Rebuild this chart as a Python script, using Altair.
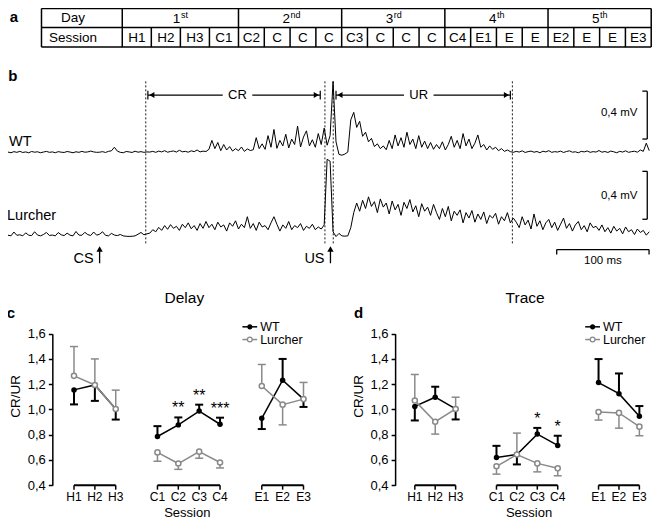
import altair as alt
import pandas as pd

# ---------------- data ----------------
days = ["1", "2", "3", "4", "5"]
day_suffix = ["st", "nd", "rd", "th", "th"]
table_sessions = ["H1", "H2", "H3", "C1", "C2", "C", "C", "C", "C3", "C", "C", "C",
                  "C4", "E1", "E", "E", "E2", "E", "E", "E3"]

# EMG traces (microvolts above baseline), one sample every 3.2 ms, CS at sample 31
sample_ms = 3.2
cs_index = 31
wt_trace = (
    [5, 0, 8, 3, 10, 2, 6, 0, 9, 4, 7, 0, 5, 10, 3, 6, 0, 8, 4, 2, 9, 5, 0, 7, 3, 10, 4, 6, 12]
    + [6, 3]
    + [4, 8, 2, 10, 14, 40, 12, 3, 0, 9, 6, 2, 11, 4, 8, 3, 6]
    + [5, 10, 3, 12, 6, 15, 4, 9, 13, 5, 18, 7, 10, 4, 14, 8, 20, 6, 12, 9]
    + [25, 90, 30, 75, 15, 60, 20, 45]
    + [12, 30, 15, 42, 10, 28, 16]
    + [22, 110, 30, 65, 25, 125, 40, 170, 32, 90, 50, 135, 35, 100, 60, 195, 42, 115,
       160, 50, 95, 40, 140, 60, 180, 55, 125]
    + [520, 80]
    + [-12, -18, -10, 5]
    + [240, 295, 185, 230, 120, 150, 80, 105, 45, 65, 30, 50, 22]
    + [90, 30, 130, 50, 110, 40, 150, 60, 100, 30, 125, 40, 85, 30, 75, 25, 60]
    + [30, 80, 20, 60, 120, 40, 90, 30, 140, 50, 100, 30, 70, 130, 40, 60, 20, 50, 25,
       40, 15, 30, 10, 20, 8]
    + [3, 10, 5, 14, 2, 8, 12, 4, 9, 0, 11, 6, 15, 3, 8, 5, 12, 2, 9, 14, 4, 7, 0, 10, 6,
       13, 3, 8, 5, 16, 4, 9, 2, 12, 7, 0, 10, 5, 14, 3, 8, 11, 4, 20, 10, 70, 15]
)
lurcher_trace = (
    [5, 0, 28, 4, 8, 0, 22, 5, 2, 30, 6, 0, 10, 25, 3, 6, 0, 24, 8, 2, 20, 5, 0, 32, 6, 4,
     26, 9, 3, 28, 5, 12, 30, 4, 0, 18, 6, 2, 10]
    + [0, -3, -4, -3, 0, 12, 25]
    + [8, 15]
    + [20, 45, 30, 62, 40, 75, 48, 82, 55, 70, 40, 85, 60, 95, 52]
    + [75, 40, 90, 55, 105, 60, 85, 45, 100, 65, 80, 35, 95, 70, 110, 50, 85, 60, 140, 55,
       90, 40, 100, 65, 75, 45, 95, 140, 85, 35, 80, 55, 105, 45, 75, 60, 90, 40, 70, 55,
       85, 45, 65, 50, 80]
    + [560, 545]
    + [30]
    + [-5, 18, 0, -2, 0]
    + [60, 170, 240]
    + [180, 260, 200, 285, 215, 250, 170, 270, 210, 240, 160, 255, 190, 230, 150, 245,
       200, 265, 175, 220, 140, 235, 180, 210, 150, 230, 170]
    + [120, 200, 140, 215, 110, 180, 150, 190, 95, 170, 130, 185, 100, 160, 120, 175, 90,
       150, 130, 165, 85, 140, 110, 170, 95, 130]
    + [100, 60, 140, 80, 115, 50, 160, 70, 110, 45, 95, 120, 60, 100, 40, 85, 130, 55, 90,
       35, 80, 105, 45, 75, 30, 95, 60, 70]
    + [40, 80, 30, 60, 20, 70, 35, 55, 15, 65, 30, 45, 10, 50, 25, 40, 5, 30]
)
window_edges_ms = [50, 244, 253, 447]

# CR/UR ratios
sessions = ["H1", "H2", "H3", "C1", "C2", "C3", "C4", "E1", "E2", "E3"]
session_pos = [0, 1, 2, 4, 5, 6, 7, 9, 10, 11]
session_group = ["H", "H", "H", "C", "C", "C", "C", "E", "E", "E"]

delay_wt = [1.155, 1.194, 1.004, 0.786, 0.878, 0.987, 0.883, 0.930, 1.232, 1.082]
delay_wt_err = [1.040, 1.068, 0.920, 0.868, 0.937, 1.038, 0.935, 0.845, 1.400, 1.020]
delay_lc = [1.266, 1.194, 1.004, 0.660, 0.572, 0.666, 0.580, 1.186, 1.038, 1.082]
delay_lc_err = [1.498, 1.400, 1.153, 0.590, 0.526, 0.614, 0.537, 1.356, 0.878, 1.214]
delay_star_sessions = ["C2", "C3", "C4"]
delay_star_labels = ["**", "**", "***"]

trace_wt = [1.024, 1.097, 1.004, 0.620, 0.643, 0.805, 0.715, 1.213, 1.125, 0.947]
trace_wt_err = [0.913, 1.180, 0.921, 0.712, 0.565, 0.854, 0.792, 1.399, 1.285, 1.027]
trace_lc = [1.070, 0.903, 1.004, 0.550, 0.643, 0.573, 0.534, 0.980, 0.973, 0.864]
trace_lc_err = [1.277, 0.805, 1.097, 0.488, 0.813, 0.506, 0.475, 0.916, 0.852, 0.792]
trace_star_sessions = ["C3", "C4"]
trace_star_labels = ["*", "*"]

y_ticks = [0.4, 0.6, 0.8, 1.0, 1.2, 1.4, 1.6]

# ---------------- layout helpers ----------------
FONT = "Liberation Sans"
GRAY = "#8a8a8a"
SX = 0.985
SY = 0.978


def X(xr):
    return round((xr - 4) * SX, 2)


def Y(yr):
    return round((yr - 5) * SY, 2)


one = pd.DataFrame({"k": [0]})
layers = []


def text(x, y, s, size=13, align="center", weight="normal", angle=0, color="black"):
    kw = dict(text=s, font=FONT, fontSize=size, align=align, baseline="middle",
              fontWeight=weight, color=color)
    if angle:
        kw["angle"] = angle
    return alt.Chart(one).mark_text(**kw).encode(x=alt.value(X(x)), y=alt.value(Y(y)))


def seg(x1, y1, x2, y2, color="black", width=1.0, dash=None):
    kw = dict(color=color, strokeWidth=width)
    if dash:
        kw["strokeDash"] = dash
    return alt.Chart(one).mark_rule(**kw).encode(
        x=alt.value(X(x1)), y=alt.value(Y(y1)), x2=alt.value(X(x2)), y2=alt.value(Y(y2)))


def sym(x, y, shape, size, color="black"):
    return alt.Chart(one).mark_point(shape=shape, size=size, filled=True, color=color,
                                     opacity=1).encode(x=alt.value(X(x)), y=alt.value(Y(y)))


# ---------------- panel a: table ----------------
layers.append(text(10, 14, "a", size=15, weight="bold"))
tbl_x = alt.Scale(domain=[-1, 0, 4, 20], range=[X(38), X(120), X(238), X(657)],
                  zero=False, nice=False)
TL, TR, TT, TM, TB = 38, 657, 5.5, 25, 45
layers.append(seg(TL, TT, TR, TT, width=1.5))
layers.append(seg(TL, TM, TR, TM, width=1.5))
layers.append(seg(TL, TB, TR, TB, width=1.5))
layers.append(seg(TL, TT, TL, TB, width=1.5))
layers.append(seg(TR, TT, TR, TB, width=1.5))
day_edges = pd.DataFrame({"e": [0, 4, 8, 12, 16]})
layers.append(alt.Chart(day_edges).mark_rule(color="black", strokeWidth=1.5).encode(
    x=alt.X("e:Q", scale=tbl_x, axis=None), y=alt.value(Y(TT)), y2=alt.value(Y(TM))))
sess_edges = pd.DataFrame({"e": list(range(20))})
layers.append(alt.Chart(sess_edges).mark_rule(color="black", strokeWidth=1.5).encode(
    x=alt.X("e:Q", scale=tbl_x, axis=None), y=alt.value(Y(TM)), y2=alt.value(Y(TB))))
layers.append(text(70, 15.5, "Day", size=13.5))
layers.append(text(70, 35.5, "Session", size=13.5))
day_df = pd.DataFrame({"c": [4 * i + 2 for i in range(5)], "d": days, "s": day_suffix})
layers.append(alt.Chart(day_df).mark_text(font=FONT, fontSize=13.5, align="right", dx=0,
                                          color="black").encode(
    x=alt.X("c:Q", scale=tbl_x, axis=None), y=alt.value(Y(16)), text="d:N"))
layers.append(alt.Chart(day_df).mark_text(font=FONT, fontSize=9, align="left", dx=0.5, color="black").encode(
    x=alt.X("c:Q", scale=tbl_x, axis=None), y=alt.value(Y(12)), text="s:N"))
sess_df = pd.DataFrame({"c": [i + 0.5 for i in range(20)], "label": table_sessions})
layers.append(alt.Chart(sess_df).mark_text(font=FONT, fontSize=13.5, color="black").encode(
    x=alt.X("c:Q", scale=tbl_x, axis=None), y=alt.value(Y(35.5)), text="label:N"))

# ---------------- panel b: EMG traces ----------------
layers.append(text(9, 75, "b", size=15, weight="bold"))
PPM = 0.9375
CSX = 97
tr_x = alt.Scale(domain=[-100, 600], range=[X(CSX - 100 * PPM), X(CSX + 600 * PPM)],
                 zero=False, nice=False)


def trace_layer(vals, base_y):
    df = pd.DataFrame({"t": [(i - cs_index) * sample_ms for i in range(len(vals))], "v": vals})
    return alt.Chart(df).mark_line(color="black", strokeWidth=1.0).encode(
        x=alt.X("t:Q", scale=tr_x, axis=None),
        y=alt.Y("v:Q", scale=alt.Scale(domain=[0, 400], range=[Y(base_y), Y(base_y - 56)],
                                       zero=False, nice=False), axis=None))


layers.append(trace_layer(wt_trace, 153))
layers.append(trace_layer(lurcher_trace, 238))
edge_df = pd.DataFrame({"t": window_edges_ms})
layers.append(alt.Chart(edge_df).mark_rule(color="black", strokeWidth=0.9, strokeDash=[2, 2]).encode(
    x=alt.X("t:Q", scale=tr_x, axis=None), y=alt.value(Y(80)), y2=alt.value(Y(246))))

# CR / UR arrows
AY = 94
for (a, b, lab, lx) in [(146, 321, "CR", 237), (337, 514, "UR", 421)]:
    layers.append(seg(a, AY, lx - 15, AY, width=1.2))
    layers.append(seg(lx + 15, AY, b, AY, width=1.2))
    layers.append(seg(a, AY - 4.5, a, AY + 4.5, width=1.2))
    layers.append(seg(b, AY - 4.5, b, AY + 4.5, width=1.2))
    layers.append(sym(a + 4, AY, "triangle-left", 35))
    layers.append(sym(b - 4, AY, "triangle-right", 35))
    layers.append(text(lx, AY, lab, size=13))

layers.append(text(5, 142, "WT", size=14.5, align="left"))
layers.append(text(3, 218, "Lurcher", size=14.5, align="left"))

# amplitude bars
for (top, bot, ty) in [(90, 139, 112), (172, 221, 197)]:
    layers.append(seg(653, top, 653, bot, width=1.3))
    layers.append(seg(648, top, 653, top, width=1.3))
    layers.append(seg(648, bot, 653, bot, width=1.3))
    layers.append(text(643, ty, "0,4 mV", size=11.5, align="right"))

# CS / US arrows
for (ax, lab) in [(CSX, "CS"), (CSX + 250 * PPM, "US")]:
    layers.append(seg(ax, 266, ax, 253, width=1.3))
    layers.append(sym(ax, 251.5, "triangle-up", 40))
    layers.append(text(ax - 6, 262, lab, size=14.5, align="right"))

# time bar
bar_df = pd.DataFrame({"t0": [495], "t1": [595]})
layers.append(alt.Chart(bar_df).mark_rule(color="black", strokeWidth=1.3).encode(
    x=alt.X("t0:Q", scale=tr_x, axis=None), x2="t1:Q", y=alt.value(Y(252))))
layers.append(alt.Chart(pd.DataFrame({"t": [495, 595]})).mark_rule(color="black", strokeWidth=1.3).encode(
    x=alt.X("t:Q", scale=tr_x, axis=None), y=alt.value(Y(252)), y2=alt.value(Y(257))))
layers.append(text(608, 264, "100 ms", size=11.5))


# ---------------- panels c and d ----------------
def panel(wt, wt_err, lc, lc_err, star_sessions, star_labels, x0, x1, axis_x,
          title, title_x, letter, letter_x, legend_x, session_x):
    out = []
    df = pd.DataFrame({"pos": session_pos, "session": sessions, "group": session_group,
                       "wt": wt, "wt_err": wt_err, "lc": lc, "lc_err": lc_err})
    xs = alt.Scale(domain=[0, 11], range=[X(x0), X(x1)], zero=False, nice=False)
    ys = alt.Scale(domain=[0.4, 1.6], range=[Y(493), Y(338)], zero=False, nice=False)
    xe = alt.X("pos:Q", scale=xs, axis=None)
    yaxis = alt.Axis(orient="left", offset=-X(axis_x), values=y_ticks,
                     labelExpr="replace(format(datum.value, '.1f'), '.', ',')",
                     tickSize=4, tickWidth=1.5, domainWidth=1.5, domainColor="black",
                     tickColor="black", labelColor="black", labelFont=FONT, labelFontSize=13,
                     labelPadding=3, grid=False, title=None)
    base = alt.Chart(df)
    cap = "M-1,0H1"
    # error bars
    out.append(base.mark_rule(color="black", strokeWidth=2).encode(
        x=xe, y=alt.Y("wt:Q", scale=ys, axis=yaxis), y2="wt_err:Q"))
    out.append(base.mark_point(shape=cap, size=64, color="black", strokeWidth=2, opacity=1).encode(
        x=xe, y=alt.Y("wt_err:Q", scale=ys, axis=None)))
    out.append(base.mark_rule(color=GRAY, strokeWidth=1.5).encode(
        x=xe, y=alt.Y("lc:Q", scale=ys, axis=None), y2="lc_err:Q"))
    out.append(base.mark_point(shape=cap, size=64, color=GRAY, strokeWidth=1.5, opacity=1).encode(
        x=xe, y=alt.Y("lc_err:Q", scale=ys, axis=None)))
    # lines
    out.append(base.mark_line(color="black", strokeWidth=1.5).encode(
        x=xe, y=alt.Y("wt:Q", scale=ys, axis=None), detail="group:N"))
    out.append(base.mark_line(color=GRAY, strokeWidth=1.5).encode(
        x=xe, y=alt.Y("lc:Q", scale=ys, axis=None), detail="group:N"))
    # points
    out.append(base.mark_point(shape="circle", size=30, filled=True, color="black", opacity=1).encode(
        x=xe, y=alt.Y("wt:Q", scale=ys, axis=None)))
    out.append(base.mark_point(shape="circle", size=26, fill="white", stroke=GRAY, strokeWidth=1.5,
                               opacity=1, fillOpacity=1).encode(
        x=xe, y=alt.Y("lc:Q", scale=ys, axis=None)))
    # stars
    lookup = dict(zip(sessions, zip(session_pos, wt_err)))
    st = pd.DataFrame({"pos": [lookup[s][0] for s in star_sessions],
                       "y": [lookup[s][1] for s in star_sessions], "label": star_labels})
    out.append(alt.Chart(st).mark_text(font=FONT, fontSize=16, dy=-9, color="black").encode(
        x=xe, y=alt.Y("y:Q", scale=ys, axis=None), text="label:N"))
    # segmented session axis
    grp = pd.DataFrame({"start": [0, 4, 9], "end": [2, 7, 11]})
    out.append(alt.Chart(grp).mark_rule(color="black", strokeWidth=1.8).encode(
        x=alt.X("start:Q", scale=xs, axis=None), x2="end:Q", y=alt.value(Y(493))))
    out.append(base.mark_rule(color="black", strokeWidth=1.5).encode(
        x=xe, y=alt.value(Y(493)), y2=alt.value(Y(497.5))))
    out.append(base.mark_text(font=FONT, fontSize=12, color="black").encode(
        x=xe, y=alt.value(Y(505.5)), text="session:N"))
    out.append(text(session_x, 521, "Session", size=13))
    out.append(text(axis_x - 37, 402, "CR/UR", size=13.5, angle=270))
    out.append(text(title_x, 302, title, size=15.5))
    out.append(text(letter_x, 317, letter, size=15, weight="bold"))
    # legend
    lx = legend_x
    out.append(seg(lx, 331, lx + 15, 331, width=1.5))
    out.append(alt.Chart(one).mark_point(shape="circle", size=26, filled=True, color="black",
                                         opacity=1).encode(x=alt.value(X(lx + 7.5)), y=alt.value(Y(331))))
    out.append(text(lx + 18, 331, "WT", size=12.5, align="left"))
    out.append(seg(lx, 344, lx + 15, 344, color=GRAY, width=1.5))
    out.append(alt.Chart(one).mark_point(shape="circle", size=22, fill="white", stroke=GRAY,
                                         strokeWidth=1.3, opacity=1, fillOpacity=1).encode(
        x=alt.value(X(lx + 7.5)), y=alt.value(Y(344))))
    out.append(text(lx + 18, 344, "Lurcher", size=12.5, align="left"))
    return out


layers += panel(delay_wt, delay_wt_err, delay_lc, delay_lc_err, delay_star_sessions,
                delay_star_labels, 71, 304, 49, "Delay", 183, "c", 7, 242, 186)
layers += panel(trace_wt, trace_wt_err, trace_lc, trace_lc_err, trace_star_sessions,
                trace_star_labels, 417, 645, 397, "Trace", 529, "d", 360, 590, 533)

chart = alt.layer(*layers).resolve_scale(x="independent", y="independent").properties(
    width=644, height=512, padding=0, autosize=alt.AutoSizeParams(type="none")
).configure_view(stroke=None)

chart.save("out.html", embed_options={"renderer": "svg", "actions": False})
